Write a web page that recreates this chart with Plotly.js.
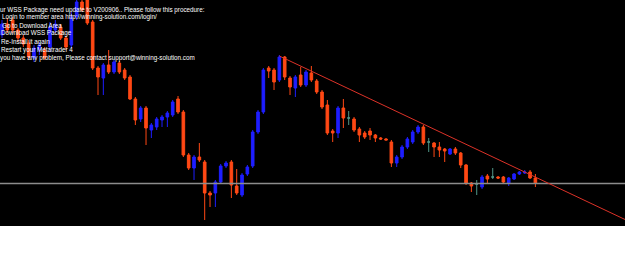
<!DOCTYPE html>
<html>
<head>
<meta charset="utf-8">
<script src="https://cdn.plot.ly/plotly-3.0.1.min.js"></script>
<style>html,body{margin:0;padding:0;background:#fff;}#chart{width:625px;height:267px;}</style>
</head>
<body>
<div id="chart"></div>
<script>
// Candle values (price units)
const openV  = [191,202,206,196,188,183,168,176,176,179,196,199,188,181,209,224,226,204,158,148,161,154,163,156,149,127,107,118,96,99,106,109,111,127,114,71,58,69,64,33,33,44,60,64,40,31,52,60,94,114,158,156,146,169,148,138,151,141,153,145,134,121,95,93,118,108,107,97,93,95,91,88,87,84,63,69,79,84,94,99,84,83,79,77,72,77,73,61,43,42,39,50,49,49,49,43,47,52,53,54,48];
const highV  = [206,208,209,198,191,186,181,184,179,204,206,202,190,214,226,226,230,206,160,163,176,166,165,158,151,129,120,120,103,109,111,115,126,130,116,73,71,83,66,35,46,62,65,66,57,53,61,96,116,158,160,158,171,170,150,151,159,156,160,147,136,126,97,120,127,115,109,99,95,98,92,89,88,86,71,81,89,96,101,101,88,84,84,78,78,79,74,62,44,46,51,52,58,50,50,49,53,55,56,56,52];
const lowV   = [188,193,193,184,179,166,164,171,166,174,193,186,176,178,206,214,201,156,131,131,152,152,152,146,126,101,104,81,88,96,99,99,109,112,69,56,46,64,6,19,19,42,58,28,31,29,50,58,92,112,148,136,144,146,131,129,139,139,144,132,117,91,84,88,98,101,94,84,87,86,84,86,86,59,59,67,77,82,92,81,74,69,69,64,71,71,58,41,34,31,37,43,47,47,43,40,46,51,52,47,39];
const closeV = [202,196,196,188,182,169,178,181,168,199,202,188,179,209,224,216,203,158,149,161,154,164,154,148,127,106,118,98,101,107,109,113,124,114,71,58,69,66,33,31,44,60,63,41,33,51,59,94,114,156,155,144,169,149,139,149,141,154,146,134,119,93,93,118,108,108,96,91,89,91,88,87,86,63,69,79,87,94,99,83,84,79,76,75,77,73,61,43,40,42,49,47,49,48,44,48,52,54,54,48,43];

// Reference lines
const supportLevel = 42.5;
const trendX = [52, 117];
const trendY = [170, 6];

// Text block
const noteLines = [
  "ur WSS Package need update to V200906.. Please follow this procedure:",
  "Login to member area http://winning-solution.com/login/",
  "Go to Download Area",
  "Download WSS Package",
  "Re-Install it again",
  "Restart your Metatrader 4",
  "you have any problem, Please contact support@winning-solution.com"
];

const idx = openV.map((_, i) => i);
function pick(pred) {
  const s = {x: [], o: [], h: [], l: [], c: []};
  idx.forEach(i => {
    if (pred(openV[i], closeV[i])) {
      s.x.push(i); s.o.push(openV[i]); s.h.push(highV[i]); s.l.push(lowV[i]); s.c.push(closeV[i]);
    }
  });
  return s;
}
function candleTrace(s, color) {
  const st = {line: {color: color, width: 1}, fillcolor: color};
  return {type: 'candlestick', x: s.x, open: s.o, high: s.h, low: s.l, close: s.c,
    increasing: st, decreasing: st, whiskerwidth: 0, hoverinfo: 'none', showlegend: false};
}
const up = pick((o, c) => c > o);
const down = pick((o, c) => c < o);
const doji = pick((o, c) => c === o);

const traces = [
  candleTrace(up, 'rgb(30,30,255)'),
  candleTrace(down, 'rgb(255,72,20)'),
  candleTrace(doji, 'rgb(80,150,135)'),
  {type: 'scatter', mode: 'lines', x: [-5, 125], y: [supportLevel, supportLevel],
    line: {color: 'rgb(140,140,140)', width: 1.5}, hoverinfo: 'skip', showlegend: false},
  {type: 'scatter', mode: 'lines', x: trendX, y: trendY,
    line: {color: 'rgb(220,50,40)', width: 1}, hoverinfo: 'skip', showlegend: false}
];

const plotH = 226;
const lineTop = 9.5, lineStep = 8;
const xShift = [0, 2, 2, 1, 1, 1, 0];
const annotations = noteLines.map((t, k) => ({
  text: t, xref: 'paper', yref: 'paper', x: 0, y: 1 - (lineTop + lineStep * k) / plotH,
  xanchor: 'left', yanchor: 'middle', showarrow: false, borderpad: 0, xshift: xShift[k] - 1,
  font: {family: 'Liberation Sans, Arial, sans-serif', size: 6.3, color: '#ffffff'}
}));

const layout = {
  width: 625, height: 267,
  margin: {l: 0, r: 0, t: 0, b: 41, pad: 0},
  paper_bgcolor: '#ffffff', plot_bgcolor: '#000000',
  showlegend: false,
  xaxis: {range: [-0.375, 116.8], visible: false, showgrid: false, zeroline: false,
    rangeslider: {visible: false}, fixedrange: true},
  yaxis: {range: [0, plotH], visible: false, showgrid: false, zeroline: false, fixedrange: true},
  annotations: annotations
};

Plotly.newPlot('chart', traces, layout, {staticPlot: true, displayModeBar: false});
</script>
</body>
</html>
